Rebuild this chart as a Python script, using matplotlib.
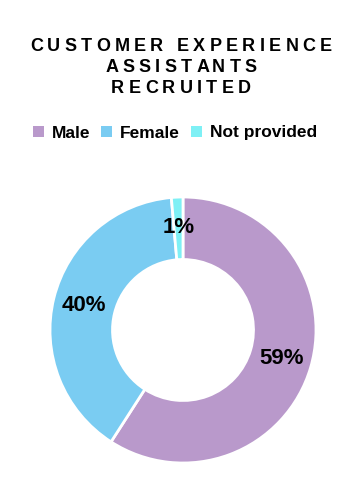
import matplotlib
matplotlib.use('Agg')
import matplotlib.pyplot as plt
from matplotlib.patches import Patch
from matplotlib.font_manager import FontProperties

# ---- data ----
categories = ['Male', 'Female', 'Not provided']
values = [59.1, 39.5, 1.4]
colors = ['#B999CB', '#7ACCF2', '#7EF0F5']
title_lines = ['CUSTOMER EXPERIENCE', 'ASSISTANTS', 'RECRUITED']

plt.rcParams['font.family'] = ['Liberation Sans', 'DejaVu Sans']

W, H = 353, 500
fig = plt.figure(figsize=(W / 100, H / 100), dpi=100)
fig.patch.set_facecolor('white')

# ---- donut ----
cx, cy, R = 183, 330, 133
ax = fig.add_axes([(cx - R) / W, (H - cy - R) / H, 2 * R / W, 2 * R / H])
wedges, texts, autotexts = ax.pie(
    values, colors=colors, startangle=90, counterclock=False, radius=1,
    wedgeprops=dict(width=0.47, edgecolor='white', linewidth=2),
    autopct=lambda p: f'{p:.0f}%', pctdistance=0.77,
    textprops=dict(fontsize=16, fontweight='bold', color='black'))
ax.set_xlim(-1, 1)
ax.set_ylim(-1, 1)
ax.set_aspect('equal')
ax.axis('off')

# ---- letter-spaced title ----
renderer = fig.canvas.get_renderer()
fp = FontProperties(family='Liberation Sans', weight='bold', size=13)


def tw(s):
    return renderer.get_text_width_height_descent(s, fp, ismath=False)[0]


xw = tw('X')
title_cx = 181
target_w = 302
first = title_lines[0]
tracking = (target_w - tw(first)) / (len(first) - 1)
baselines = [50.7, 71.7, 93.3]
for line, yb in zip(title_lines, baselines):
    offs = [tw(line[:i] + 'X') - xw + i * tracking for i in range(len(line))]
    total = tw(line) + (len(line) - 1) * tracking
    x0 = title_cx - total / 2
    for ch, o in zip(line, offs):
        if ch == ' ':
            continue
        fig.text((x0 + o) / W, 1 - yb / H, ch, fontproperties=fp,
                 ha='left', va='baseline', color='black')

# ---- legend ----
handles = [Patch(facecolor=c, edgecolor='none') for c in colors]
fig.legend(handles, categories, loc='center', bbox_to_anchor=(175 / W, 1 - 133 / H),
           ncol=3, frameon=False,
           prop=FontProperties(family='Liberation Sans', weight='bold', size=12.5),
           handlelength=0.64, handleheight=0.64, handletextpad=0.46,
           columnspacing=0.6, borderpad=0)

fig.savefig('out.png', dpi=100, facecolor='white')
